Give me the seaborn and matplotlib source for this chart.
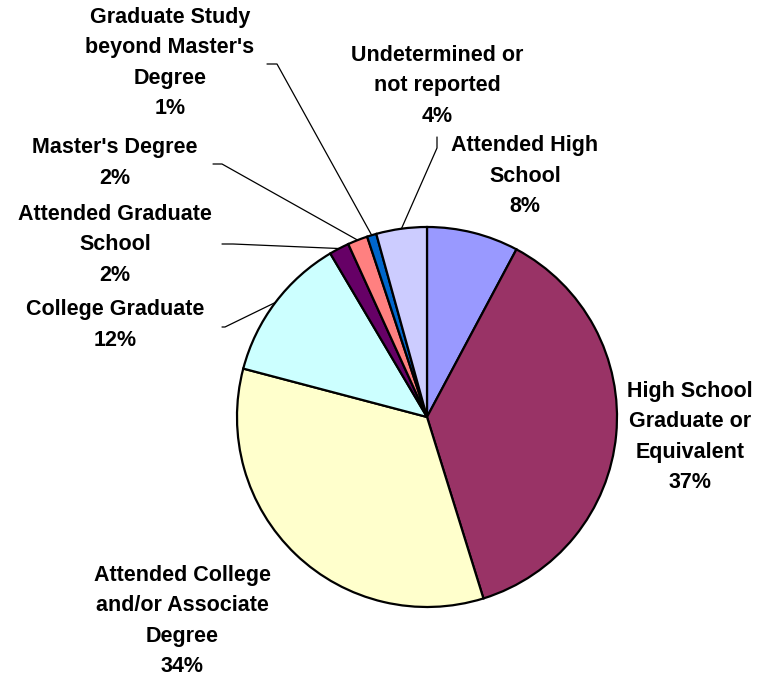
import numpy as np
import matplotlib
matplotlib.use("Agg")
import matplotlib.pyplot as plt
import seaborn as sns

categories = [
    "Attended High\nSchool",
    "High School\nGraduate or\nEquivalent",
    "Attended College\nand/or Associate\nDegree",
    "College Graduate",
    "Attended Graduate\nSchool",
    "Master's Degree",
    "Graduate Study\nbeyond Master's\nDegree",
    "Undetermined or\nnot reported",
]
values = [7.8, 37.4, 33.9, 12.4, 1.7, 1.7, 0.8, 4.3]
colors = ["#9999FF", "#993366", "#FFFFCC", "#CCFFFF",
          "#660066", "#FF8080", "#0066CC", "#CCCCFF"]

# layout (pixel coords, y measured from top)
label_pos = [(525, 176), (690, 437), (182, 621), (115, 325),
             (115, 245), (115, 163), (170, 63), (437, 86)]
leader = [None, None, None,
          [(222, 327), (225, 327)],
          [(222, 244), (233, 244)],
          [(213, 164), (222, 164)],
          [(267, 64), (277, 64)],
          [(437, 137), (437, 148)]]

W, H = 757, 679
sns.set_theme(style="white")
plt.rcParams['font.family'] = ['Liberation Sans', 'DejaVu Sans']

fig = plt.figure(figsize=(W / 100, H / 100), dpi=100)
ax = fig.add_axes([0, 0, 1, 1])
ax.set_xlim(0, W)
ax.set_ylim(0, H)
ax.set_aspect("equal")
ax.axis("off")

cx, cy, r = 427, H - 417, 190
wedges, _ = ax.pie(values, colors=colors, startangle=90, counterclock=False,
                   center=(cx, cy), radius=r,
                   wedgeprops=dict(edgecolor="black", linewidth=1.6))
ax.set_xlim(0, W)
ax.set_ylim(0, H)

total = sum(values)
for i, (cat, v) in enumerate(zip(categories, values)):
    pct = int(round(v / total * 100))
    lx, ly = label_pos[i]
    ax.text(lx, H - ly, f"{cat}\n{pct}%", ha="center", va="center",
            fontsize=15.5, fontweight="bold", linespacing=1.585, color="black")
    if leader[i] is not None:
        w = wedges[i]
        mid = np.deg2rad((w.theta1 + w.theta2) / 2)
        ex, ey = cx + r * np.cos(mid), cy + r * np.sin(mid)
        pts = [(x, H - y) for x, y in leader[i]] + [(ex, ey)]
        xs, ys = zip(*pts)
        ax.plot(xs, ys, color="black", linewidth=0.9)

fig.savefig("out.png", dpi=100)
